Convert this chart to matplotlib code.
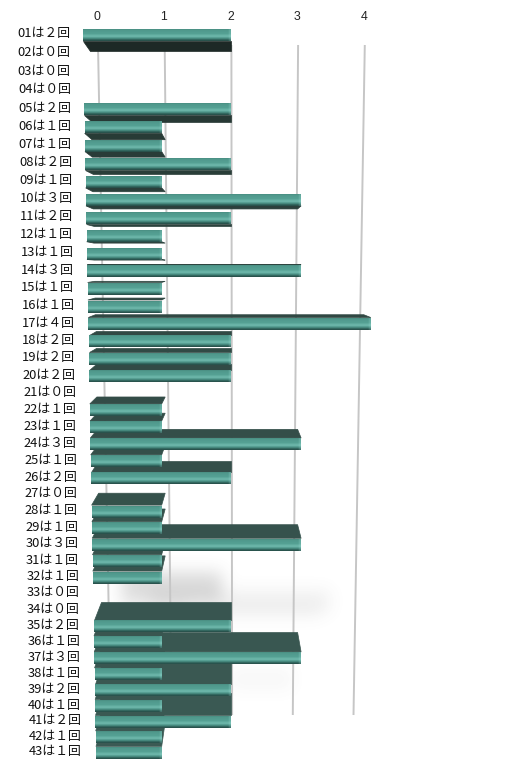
import numpy as np
import matplotlib
matplotlib.use("Agg")
import matplotlib.pyplot as plt
from matplotlib.patches import Polygon
from matplotlib.colors import LinearSegmentedColormap, to_rgb

# ---- data ----
categories = [f"{i:02d}" for i in range(1, 44)]
counts = [2, 0, 0, 0, 2, 1, 1, 2, 1, 3, 2, 1, 1, 3, 1, 1, 4, 2, 2, 2, 0,
          1, 1, 3, 1, 2, 0, 1, 1, 3, 1, 1, 0, 0, 2, 1, 3, 1, 2, 1, 2, 1, 1]
ticks = [0, 1, 2, 3, 4]
labels = [f"{c}は{chr(0xFF10 + v)}回" for c, v in zip(categories, counts)]

# ---- figure / coordinate system ----
W, H = 522, 775
fig = plt.figure(figsize=(W / 100, H / 100), dpi=100)
ax = fig.add_axes([0, 0, 1, 1])
ax.axis('off')

X0, SX = 92.0, 69.7     # pixel of value 0, pixels per unit

# perspective row scale: row index -> pixel from top
PA, PB, PC = 34.0, 18.66, 0.0373


def fwd(i):
    i = np.asarray(i, dtype=float)
    return PA + PB * i - PC * i * i


def inv(p):
    p = np.asarray(p, dtype=float)
    return (PB - np.sqrt(np.maximum(PB * PB - 4 * PC * (p - PA), 0))) / (2 * PC)


ax.set_yscale('function', functions=(fwd, inv))
ax.set_xlim(-X0 / SX, (W - X0) / SX)
ax.set_ylim(float(inv(H)), float(inv(0)))


def px2x(p):
    return (p - X0) / SX


def rowpx(i, dp):
    """row index shifted by dp pixels (in the row scale)"""
    return float(inv(fwd(i) + dp))


n = len(counts)

# ---- soft shadow (decoration, pixel image) ----
S = np.zeros((H, W))
for (x0, y0, x1, y1, a) in [(122, 572, 222, 600, 0.24), (150, 590, 330, 612, 0.09),
                            (200, 602, 320, 618, 0.05), (230, 668, 292, 690, 0.05),
                            (120, 600, 190, 612, 0.09)]:
    S[y0:y1, x0:x1] += a
g = np.exp(-0.5 * (np.arange(-24, 25) / 8.0) ** 2)
g /= g.sum()
S = np.apply_along_axis(lambda r: np.convolve(r, g, mode='same'), 1, S)
S = np.apply_along_axis(lambda r: np.convolve(r, g, mode='same'), 0, S)
img = np.zeros((H, W, 4))
img[..., :3] = 0.42
img[..., 3] = np.clip(S, 0, 1)
fig.figimage(img, xo=0, yo=0, origin='upper', zorder=-1)

# ---- gridlines & ticks ----
gy0, gy1 = float(inv(45)), float(inv(715))
for v in ticks:
    xt = px2x(98 + 66.7 * v)
    xb = px2x(110.7 + 60.7 * v)
    ax.plot([xt, xb], [gy0, gy1], color='#c6c6c6', lw=1.4, zorder=1,
            solid_capstyle='butt')
    ax.text(px2x(97 + 66.7 * v), float(inv(17)), str(v), ha='center', va='center',
            fontsize=8.8, family=['Liberation Sans', 'DejaVu Sans'], color='#222222')

# ---- bars ----
face_cmap = LinearSegmentedColormap.from_list('face', [
    (0.0, '#356e66'), (0.12, '#4f978b'), (0.45, '#55a194'), (0.66, '#70baae'),
    (0.82, '#4c9387'), (0.94, '#33675f'), (1.0, '#29534d')])
grad = face_cmap(np.linspace(0, 1, 32))[:, None, :3]
cap_mix = np.array([0.05, 0.3, 0.12])
cap = grad * (1 - cap_mix[None, :, None]) + np.array(to_rgb('#aeeee6'))[None, None, :] * cap_mix[None, :, None]

dark_top = np.array(to_rgb('#1d2926'))
dark_bot = np.array(to_rgb('#3b5a54'))


def depth(i):
    return 10.5 - 0.83 * i   # pixels, positive = downward


order_top = [i for i in range(n) if depth(i) > 0]
order_bot = [i for i in range(n) if depth(i) <= 0][::-1]
draw_order = order_top + order_bot

for rank, i in enumerate(draw_order):
    v = counts[i]
    t = (float(fwd(i)) - PA) / (float(fwd(n - 1)) - PA)
    lx = 70 + 12 * t
    ax.text(px2x(lx), i, labels[i], ha='right', va='center', fontsize=9.3,
            family=['Noto Sans CJK JP', 'DejaVu Sans'], color='#111111', zorder=50)
    if v <= 0:
        continue
    z = 10 + rank
    L = px2x(83 + 13 * t)
    R = v
    top = rowpx(i, -5.5)
    bot = rowpx(i, 7.0)
    d = depth(i)
    k, c = 0.05, 2.0
    Lb, Rb = L + k * (c - L), R + k * (c - R)
    if d > 0:
        ye, yb = bot, rowpx(i, 7.0 + d)
    else:
        ye, yb = top, rowpx(i, -5.5 + d)
    col = dark_top + (dark_bot - dark_top) * np.sqrt(t)
    ax.add_patch(Polygon([(L, ye), (R, ye), (Rb, yb), (Lb, yb)], closed=True,
                         facecolor=col, edgecolor=col, lw=0.5, zorder=z))
    ax.imshow(grad, extent=(L, R, bot, top), origin='upper', aspect='auto',
              zorder=z + 0.1, interpolation='bilinear')
    ax.imshow(cap, extent=(R - 3 / SX, R, bot, top), origin='upper', aspect='auto',
              zorder=z + 0.2, interpolation='bilinear')

ax.set_xlim(-X0 / SX, (W - X0) / SX)
ax.set_ylim(float(inv(H)), float(inv(0)))
fig.savefig('out.png', dpi=100)
